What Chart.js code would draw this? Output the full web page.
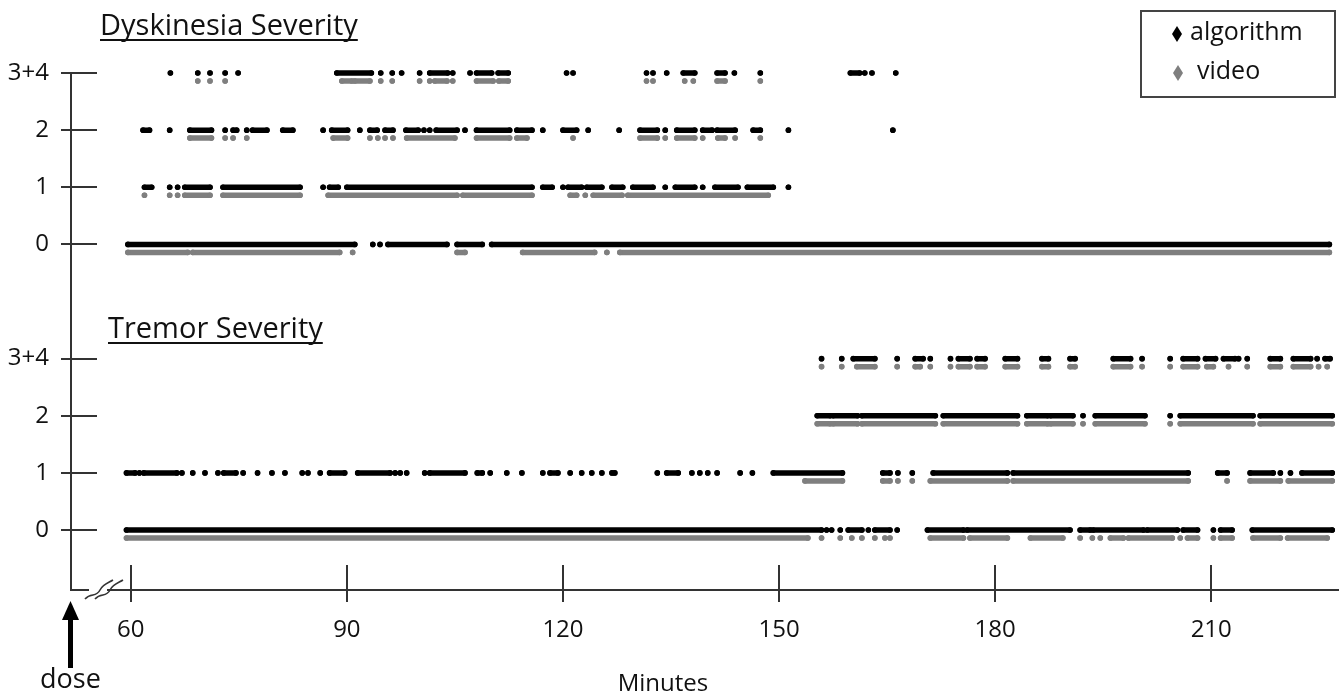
<!DOCTYPE html>
<html>
<head>
<meta charset="utf-8">
<script src="https://cdn.jsdelivr.net/npm/chart.js@4.4.0/dist/chart.umd.min.js"></script>
<style>
  html, body { margin: 0; padding: 0; background: #fff; }
  #wrap { width: 1342px; height: 696px; position: relative; }
</style>
</head>
<body>
<div id="wrap"><canvas id="chart"></canvas></div>
<script>
// Severity levels: row index on the y scale and tick label
const levelLabels = ['0', '1', '2', '3+4'];
const tremorRows = [0, 1, 2, 3];
const dyskRows = [5, 6, 7, 8];
const xTicks = [60, 90, 120, 150, 180, 210];

// Scored minutes as runs: [start, end] or [minute] for a single score
const dyskAlgo3 = [[65.5],[69.3],[71.0],[73.1],[74.9],[88.6,93.4],[94.7],[96.3],[97.6],[100.1],[101.5,104.0],[104.7],[107.1],[108.0,110.1],[111.0,112.4],[120.5],[121.4],[131.6],[132.5],[134.4],[136.7,138.3],[141.4,142.5],[143.8],[147.4],[159.9,161.2],[161.9],[162.9],[166.2]];
const dyskVideo3 = [[69.3],[71.0],[73.1],[89.3,90.7],[91.1,93.2],[94.7],[96.3],[100.1],[101.5],[102.2,103.9],[104.7],[108.0,110.3],[111.1,112.4],[131.6],[132.5],[136.9],[138.1],[141.4,142.5],[147.4]];
const dyskAlgo2 = [[61.7,62.6],[65.4],[68.2,71.2],[73.1],[74.2,74.7],[76.1],[76.9,78.9],[81.1,82.5],[86.7],[87.9,90.1],[91.8],[93.2,94.2],[95.3,96.4],[98.2,99.9],[100.7],[101.5],[102.4,105.3],[106.4],[108.0,112.6],[113.6,115.7],[117.2],[120.0,121.9],[123.5],[127.8],[130.7,133.1],[134.2],[135.8,138.3],[139.4,140.7],[141.4,143.9],[146.4,147.4],[151.3],[165.8]];
const dyskVideo2 = [[68.2,71.2],[73.1],[74.2],[76.1],[88.1,90.1],[93.2],[94.3],[95.3],[96.4],[98.3,105.0],[108.0,112.6],[113.6,115.0],[121.4],[130.7,133.1],[134.2],[135.8,138.3],[139.4],[141.5,142.5],[143.9],[147.4]];
const dyskAlgo1 = [[61.9,62.9],[65.4],[66.5],[67.5,71.0],[72.8,83.5],[86.7],[87.6,88.8],[90.0,115.7],[117.2,118.5],[120.0],[120.7,122.6],[123.3,125.4],[126.8,128.3],[129.7,132.5],[134.2],[135.6,138.3],[139.4],[141.1,144.3],[145.6,149.2],[151.3]];
const dyskVideo1 = [[61.9],[65.4],[66.5],[67.5,71.0],[72.8,83.5],[87.4,105.3],[106.1,115.7],[121.0,121.9],[123.1],[124.2,128.2],[129.0,148.5]];
const dyskAlgo0 = [[59.6,91.1],[93.6],[94.6],[95.7,103.9],[105.3,108.8],[110.1,226.4]];
const dyskVideo0 = [[59.6,67.9],[68.6,89.0],[90.8],[105.3,106.4],[114.4,124.4],[126.1],[127.9,226.4]];

const tremorAlgo3 = [[155.9],[158.7],[160.3,163.3],[166.4],[168.9,170.0],[171.0],[173.8],[174.9,176.5],[177.5,178.6],[181.4,183.1],[186.5,187.4],[190.4,191.1],[196.4,198.8],[200.4],[204.3],[206.1,208.1],[209.2,210.6],[211.7,213.3],[213.8],[215.0],[218.2,219.6],[221.4,223.8],[224.7],[225.8,226.5]];
const tremorVideo3 = [[155.9],[158.7],[160.8,163.3],[166.4],[168.9,169.6],[171.0],[173.8],[174.9,176.5],[177.5,178.6],[181.4,183.1],[186.5,187.4],[190.4,191.1],[196.4,198.8],[200.4],[204.3],[206.1,208.1],[209.4,210.3],[212.4],[215.0],[218.2,219.6],[221.4,223.8],[224.9],[226.1]];
const tremorAlgo2 = [[155.3,157.1],[157.5,160.9],[161.5,171.7],[172.8,183.1],[184.4,187.3],[187.7,190.8],[192.2],[193.9,200.8],[204.3],[205.7,215.8],[216.8,226.8]];
const tremorVideo2 = [[155.3,157.1],[157.5,160.9],[161.5,171.7],[172.8,183.1],[184.4,187.3],[187.7,190.8],[192.2],[193.9,200.8],[204.3],[205.7,215.8],[216.8,226.8]];
const tremorAlgo1 = [[59.4,60.6],[61.2],[61.8,66.4],[67.1],[68.6],[70.3],[72.1],[72.9,74.6],[75.6],[77.6],[79.6],[81.4],[83.8],[84.6],[86.3],[87.6,89.7],[91.5,96.0],[96.7],[97.4],[98.3],[100.8],[101.5,106.4],[108.1,108.8],[109.9],[112.2],[114.3],[117.2],[118.2,119.3],[121.0],[122.6],[124.0],[125.4],[126.8,127.2],[133.1],[134.4,136.0],[137.9],[139.0],[140.1],[141.4],[144.6],[146.3],[149.2,158.8],[164.4,165.4],[166.5],[168.5],[171.4,181.7],[182.5,206.8],[210.9,212.2],[215.4,218.6],[219.6],[221.0],[222.6,226.8]];
const tremorVideo1 = [[153.6,158.8],[164.4,165.4],[166.5],[168.5],[171.0,181.7],[182.5,206.8],[212.2],[215.4,219.6],[220.7,226.8]];
const tremorAlgo0 = [[59.4,155.9],[156.6],[157.3],[158.5],[159.6,161.5],[162.4],[163.3,165.4],[166.4],[170.6,175.6],[176.1,190.4],[191.8,193.2],[193.6,200.6],[201.1,205.3],[206.1,208.1],[210.3],[211.3,212.9],[215.7,226.8]];
const tremorVideo0 = [[59.4,154.0],[155.9],[158.5],[160.1],[161.5],[163.3],[164.7],[165.4],[171.0,175.6],[176.5,181.7],[184.9,189.4],[191.8],[193.5],[194.6],[196.0,197.8],[198.5,204.6],[205.7],[206.7,208.1],[210.3],[211.3,212.9],[215.8,219.6],[220.6,226.1]];

const VIDEO_SHIFT = 0.14; // video row sits just under the algorithm row

// turn runs into line points, with a null break after each run
function runsToPoints(runs, y) {
    const pts = [];
    runs.forEach(r => {
        const s = r[0], e = r.length > 1 ? r[1] : r[0];
        pts.push({ x: s, y: y });
        if (e !== s) pts.push({ x: e, y: y });
        pts.push({ x: e, y: null });
    });
    return pts;
}

const algoRows = [
    [tremorAlgo0, tremorRows[0]], [tremorAlgo1, tremorRows[1]], [tremorAlgo2, tremorRows[2]], [tremorAlgo3, tremorRows[3]],
    [dyskAlgo0, dyskRows[0]], [dyskAlgo1, dyskRows[1]], [dyskAlgo2, dyskRows[2]], [dyskAlgo3, dyskRows[3]]
];
const videoRows = [
    [tremorVideo0, tremorRows[0]], [tremorVideo1, tremorRows[1]], [tremorVideo2, tremorRows[2]], [tremorVideo3, tremorRows[3]],
    [dyskVideo0, dyskRows[0]], [dyskVideo1, dyskRows[1]], [dyskVideo2, dyskRows[2]], [dyskVideo3, dyskRows[3]]
];

const algoPoints = [].concat(...algoRows.map(r => runsToPoints(r[0], r[1])));
const videoPoints = [].concat(...videoRows.map(r => runsToPoints(r[0], r[1] - VIDEO_SHIFT)));

const rowLabel = {};
tremorRows.forEach((r, i) => rowLabel[r] = levelLabels[i]);
dyskRows.forEach((r, i) => rowLabel[r] = levelLabels[i]);

const FONT = "'Open Sans', sans-serif";
const INK = '#111';
const AXIS = '#333';

// axes extras, titles, legend box and dose arrow
const decorations = {
    id: 'decorations',
    afterDraw(chart) {
        const ctx = chart.ctx;
        const xs = chart.scales.x, ys = chart.scales.y;
        const area = chart.chartArea;
        ctx.save();
        ctx.strokeStyle = AXIS;
        ctx.lineWidth = 2;

        // tick marks reaching into the plot
        Object.keys(rowLabel).forEach(r => {
            const y = Math.round(ys.getPixelForValue(+r));
            ctx.beginPath(); ctx.moveTo(area.left, y); ctx.lineTo(area.left + 26, y); ctx.stroke();
        });
        xTicks.forEach(v => {
            const x = Math.round(xs.getPixelForValue(v));
            ctx.beginPath(); ctx.moveTo(x, area.bottom); ctx.lineTo(x, area.bottom - 25); ctx.stroke();
        });

        // axis break
        ctx.fillStyle = '#fff';
        ctx.fillRect(89, area.bottom - 4, 18, 8);
        ctx.lineWidth = 1.6;
        [0, 10].forEach(dx => {
            ctx.beginPath();
            ctx.moveTo(85 + dx, area.bottom + 9);
            ctx.bezierCurveTo(91 + dx, area.bottom + 2, 96 + dx, area.bottom + 8, 100 + dx, area.bottom);
            ctx.bezierCurveTo(103 + dx, area.bottom - 6, 108 + dx, area.bottom - 7, 113 + dx, area.bottom - 10);
            ctx.stroke();
        });

        // dose arrow
        ctx.fillStyle = '#000';
        ctx.fillRect(area.left - 3, 616, 5, 52);
        ctx.beginPath();
        ctx.moveTo(area.left - 0.5, 601);
        ctx.lineTo(area.left - 9, 620);
        ctx.lineTo(area.left + 8, 620);
        ctx.closePath(); ctx.fill();

        ctx.fillStyle = INK;
        ctx.textBaseline = 'alphabetic';
        ctx.textAlign = 'left';
        ctx.font = '27px ' + FONT;
        ctx.fillText('dose', 40, 688);

        ctx.font = '24px ' + FONT;
        ctx.textAlign = 'center';
        ctx.fillText('Minutes', 663, 691);

        // section titles, underlined
        ctx.textAlign = 'left';
        ctx.font = '29px ' + FONT;
        ctx.lineWidth = 1.8;
        ctx.strokeStyle = INK;
        [['Dyskinesia Severity', 100, 35], ['Tremor Severity', 108, 338]].forEach(t => {
            ctx.fillText(t[0], t[1], t[2]);
            const w = ctx.measureText(t[0]).width;
            ctx.beginPath(); ctx.moveTo(t[1], t[2] + 5); ctx.lineTo(t[1] + w, t[2] + 5); ctx.stroke();
        });

        // legend
        ctx.strokeStyle = '#444';
        ctx.lineWidth = 2;
        ctx.strokeRect(1141, 11, 194, 86);
        const items = [
            [chart.data.datasets[0].label, chart.data.datasets[0].borderColor, 1177, 34, 1190],
            [chart.data.datasets[1].label, chart.data.datasets[1].borderColor, 1178, 73, 1197]
        ];
        ctx.font = '25px ' + FONT;
        ctx.textBaseline = 'middle';
        items.forEach(it => {
            ctx.fillStyle = it[1];
            ctx.beginPath();
            ctx.moveTo(it[2], it[3] - 8); ctx.lineTo(it[2] + 5, it[3]);
            ctx.lineTo(it[2], it[3] + 8); ctx.lineTo(it[2] - 5, it[3]);
            ctx.closePath(); ctx.fill();
            ctx.fillStyle = INK;
            ctx.fillText(it[0], it[4], it[3] - 1);
        });
        ctx.restore();
    }
};

new Chart(document.getElementById('chart'), {
    type: 'scatter',
    data: {
        datasets: [
            {
                label: 'algorithm',
                data: algoPoints,
                showLine: true,
                spanGaps: false,
                borderColor: '#000',
                backgroundColor: '#000',
                borderWidth: 5.5,
                borderCapStyle: 'round',
                pointRadius: 2.8,
                pointBorderWidth: 0,
                clip: false
            },
            {
                label: 'video',
                data: videoPoints,
                showLine: true,
                spanGaps: false,
                borderColor: '#7f7f7f',
                backgroundColor: '#7f7f7f',
                borderWidth: 5.5,
                borderCapStyle: 'round',
                pointRadius: 2.8,
                pointBorderWidth: 0,
                clip: false
            }
        ]
    },
    options: {
        responsive: true,
        maintainAspectRatio: false,
        animation: false,
        devicePixelRatio: 1,
        layout: { padding: { top: 73, right: 4, left: 0, bottom: 0 } },
        plugins: {
            legend: { display: false },
            tooltip: { enabled: false }
        },
        scales: {
            x: {
                type: 'linear',
                min: 51.7,
                max: 227.6,
                afterBuildTicks: s => { s.ticks = xTicks.map(v => ({ value: v })); },
                afterFit: s => { s.height = 106; },
                grid: { drawOnChartArea: false, drawTicks: true, tickLength: 12, color: AXIS, lineWidth: 2 },
                border: { display: true, color: AXIS, width: 2 },
                ticks: { font: { family: FONT, size: 24 }, color: INK, padding: 14, maxRotation: 0, autoSkip: false }
            },
            y: {
                type: 'linear',
                min: -1.05,
                max: 8,
                afterBuildTicks: s => { s.ticks = Object.keys(rowLabel).map(v => ({ value: +v })); },
                afterFit: s => { s.width = 71; },
                grid: { drawOnChartArea: false, drawTicks: true, tickLength: 10, color: AXIS, lineWidth: 2 },
                border: { display: true, color: AXIS, width: 2 },
                ticks: {
                    font: { family: FONT, size: 24 },
                    color: INK,
                    padding: 12,
                    autoSkip: false,
                    callback: v => rowLabel[v]
                }
            }
        }
    },
    plugins: [decorations]
});
</script>
</body>
</html>
